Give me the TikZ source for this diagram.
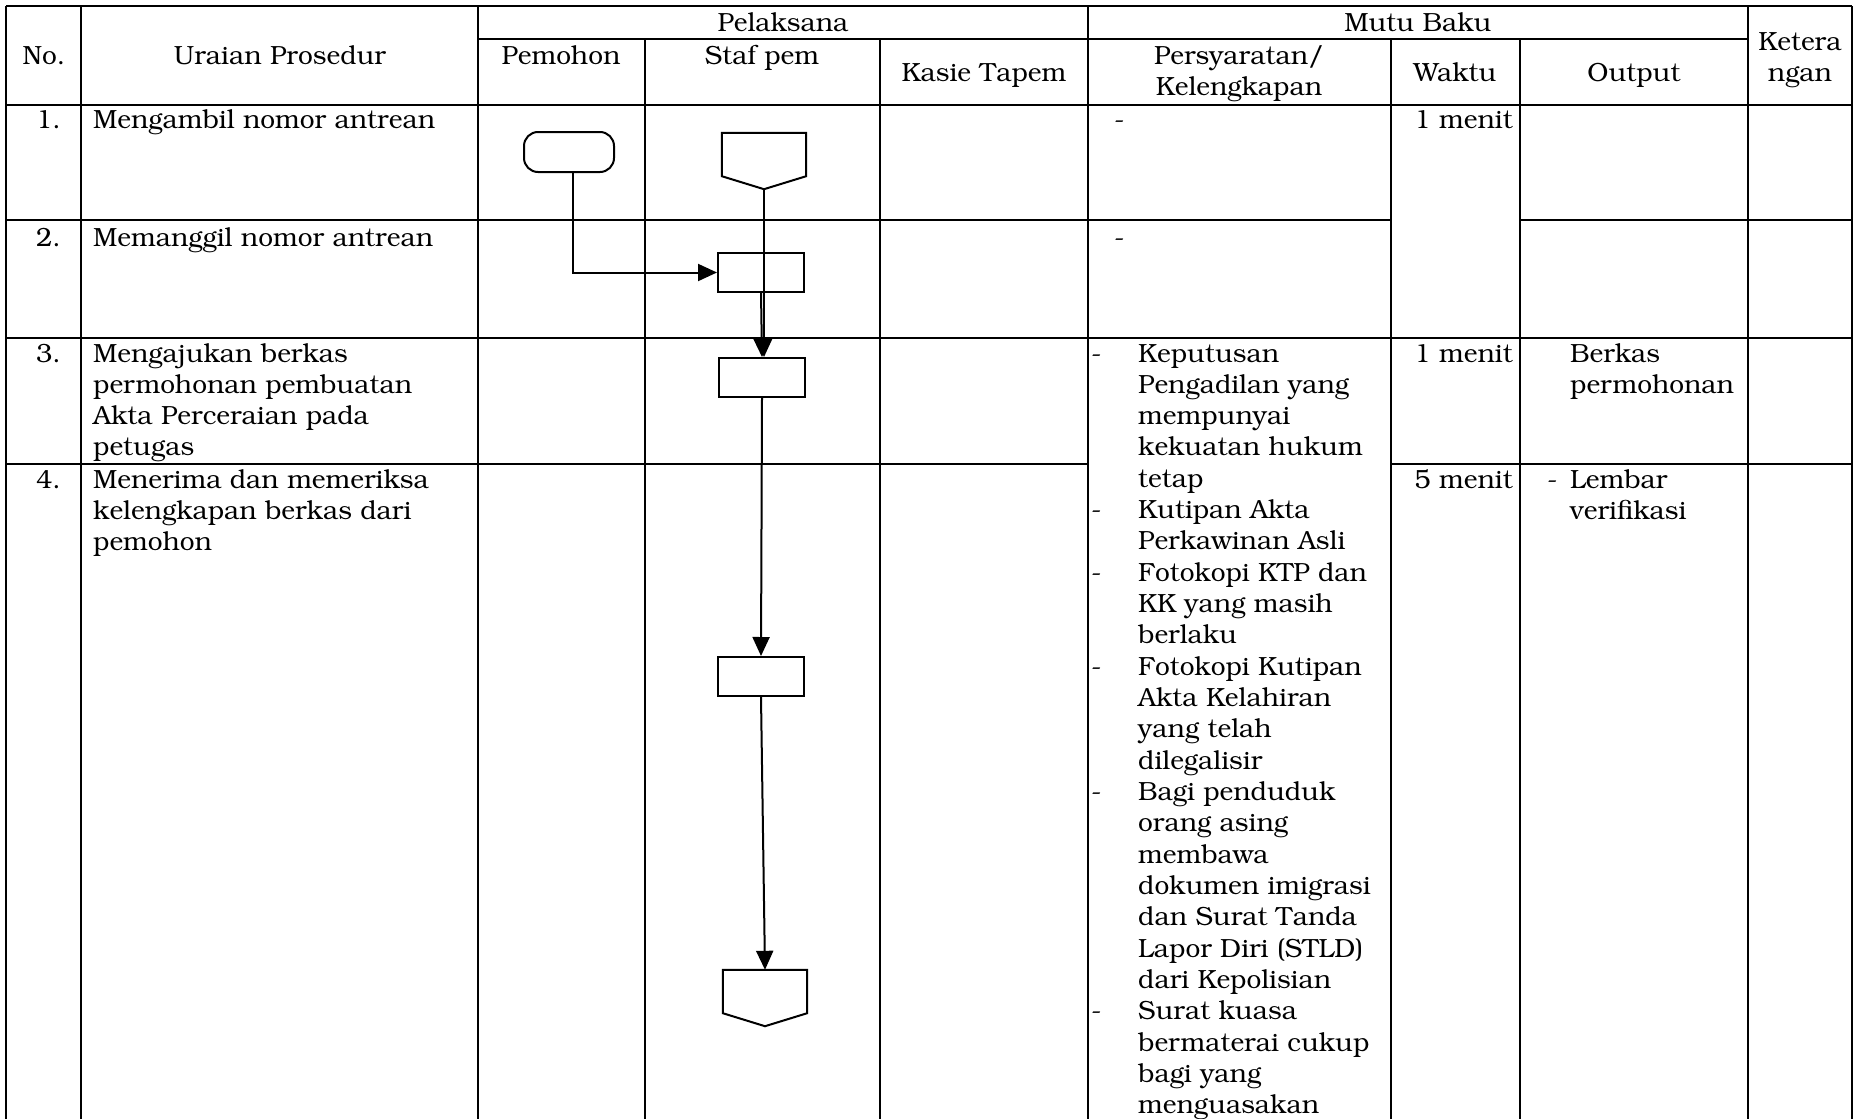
\documentclass[tikz,border=0pt]{standalone}
\usepackage[T1]{fontenc}
\usepackage{bookman}
\usetikzlibrary{arrows.meta}

% off-page connector drawn round a named node
\newcommand{\offpage}[1]{\draw[line width=2pt] (#1.north west) -- (#1.north east) -- ([yshift=13pt]#1.south east) -- (#1.south) -- ([yshift=13pt]#1.south west) -- cycle;}

\begin{document}
\begin{tikzpicture}[x=1pt,y=-1pt,
    font=\fontsize{26.3pt}{31.33pt}\selectfont,
    vline/.style={line width=2pt},
    hline/.style={line width=2.8pt},
    txt/.style={inner sep=0pt,anchor=base west},
    txtr/.style={inner sep=0pt,anchor=base east},
    txtc/.style={inner sep=0pt,anchor=base},
    box/.style={draw,line width=2pt,minimum width=86pt,minimum height=39pt,inner sep=0pt},
    term/.style={box,minimum width=90pt,minimum height=40pt,rounded corners=14pt},
    opc/.style={inner sep=0pt,minimum width=84pt,minimum height=56pt},
    flow/.style={line width=2pt,-{Triangle[length=19pt,width=17pt]}}]
    \fill[white] (0,0) rectangle (1864,1119);
    \useasboundingbox (0,0) rectangle (1864,1119);
    % table rules
    \draw[hline] (6,6) -- (1852,6);
    \draw[hline] (478,39) -- (1748,39);
    \draw[hline] (6,105) -- (1852,105);
    \draw[hline] (6,220) -- (1391,220);
    \draw[hline] (1520,220) -- (1852,220);
    \draw[hline] (6,338) -- (1852,338);
    \draw[hline] (6,464) -- (1088,464);
    \draw[hline] (1391,464) -- (1852,464);
    \foreach \x in {6,81,478,1088,1748,1852}
        \draw[vline] (\x,6) -- (\x,1119);
    \foreach \x in {645,880,1391,1520}
        \draw[vline] (\x,39) -- (\x,1119);
    % header
    \node[txtc] (hpel) at (783,31) {Pelaksana};
    \node[txtc] (hmutu) at (1418,31) {Mutu Baku};
    \node[txtc] (hno) at (44,64) {No.};
    \node[txtc] (hura) at (280,64) {Uraian Prosedur};
    \node[txtc] (hpem) at (561,64) {Pemohon};
    \node[txtc] (hstaf) at (762,64) {Staf pem};
    \node[txtc] (hkas) at (984,81) {Kasie Tapem};
    \node[txtc] (hsyr) at (1239,64) {Persyaratan/};
    \node[txtc] (hlkp) at (1239,95) {Kelengkapan};
    \node[txtc] (hwkt) at (1455,81) {Waktu};
    \node[txtc] (hout) at (1634,81) {Output};
    \node[txtc] (hket) at (1800,50) {Ketera};
    \node[txtc] (hket2) at (1800,81) {ngan};
    % row numbers and steps
    \node[txtr] (n1) at (61,128) {1.};
    \node[txtr] (n2) at (61,246) {2.};
    \node[txtr] (n3) at (61,362) {3.};
    \node[txtr] (n4) at (61,488) {4.};
    \node[txt] (u1) at (93,128) {Mengambil nomor antrean};
    \node[txt] (u2) at (93,246) {Memanggil nomor antrean};
    \foreach \t [count=\i from 0] in {Mengajukan berkas, permohonan pembuatan, Akta Perceraian pada, petugas}
        \node[txt] (u3\i) at (93,{362+31.33*\i}) {\t};
    \foreach \t [count=\i from 0] in {Menerima dan memeriksa, kelengkapan berkas dari, pemohon}
        \node[txt] (u4\i) at (93,{488+31.33*\i}) {\t};
    % mutu baku
    \node[txt] (s1) at (1114,128) {-};
    \node[txt] (s2) at (1114,246) {-};
    \foreach \t [count=\i from 0] in {Keputusan, Pengadilan yang, mempunyai, kekuatan hukum, tetap,
        Kutipan Akta, Perkawinan Asli, Fotokopi KTP dan, KK yang masih, berlaku,
        Fotokopi Kutipan, Akta Kelahiran, yang telah, dilegalisir, Bagi penduduk,
        orang asing, membawa, dokumen imigrasi, dan Surat Tanda, Lapor Diri (STLD),
        dari Kepolisian, Surat kuasa, bermaterai cukup, bagi yang, menguasakan}
        \node[txt] (req\i) at (1138,{362+31.33*\i}) {\t};
    \foreach \i in {0,5,7,10,14,21}
        \node[txt] (rd\i) at (1091,{362+31.33*\i}) {-};
    \node[txtr] (w1) at (1513,128) {1 menit};
    \node[txtr] (w3) at (1513,362) {1 menit};
    \node[txtr] (w4) at (1513,488) {5 menit};
    \node[txt] (o3) at (1570,362) {Berkas};
    \node[txt] (o3b) at (1570,393) {permohonan};
    \node[txt] (o4d) at (1547,488) {-};
    \node[txt] (o4) at (1570,488) {Lembar};
    \node[txt] (o4b) at (1570,519) {verifikasi};
    % flow
    \node[term] (start) at (569,152) {};
    \node[opc] (c1) at (764,161) {};
    \offpage{c1}
    \node[box] (b2) at (761,272.5) {};
    \node[box] (b3) at (762,377.5) {};
    \node[box] (b4) at (761,676.5) {};
    \node[opc] (c2) at (765,998) {};
    \offpage{c2}
    \draw[flow] ([xshift=4pt]start.south) |- (b2.west);
    \draw[flow] (c1.south) -- (c1.south |- b3.north);
    \draw[flow] (b2.south) -- (b3.north);
    \draw[flow] (b3.south) -- (b4.north);
    \draw[flow] (b4.south) -- (c2.north);
\end{tikzpicture}
\end{document}
